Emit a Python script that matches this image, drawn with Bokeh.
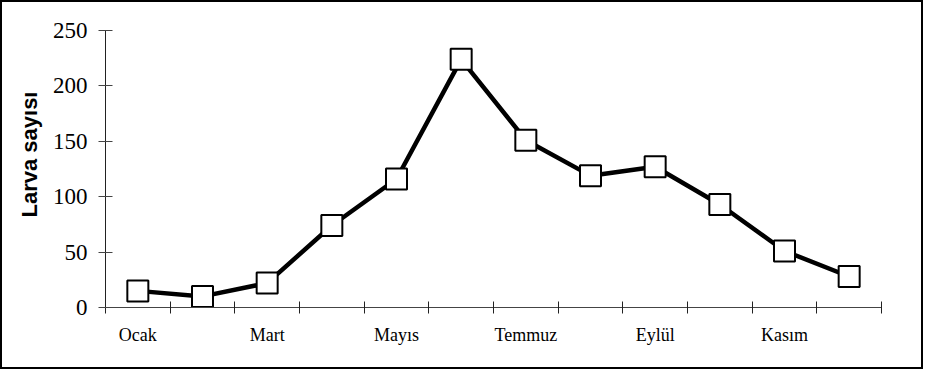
from bokeh.plotting import figure
from bokeh.models import FixedTicker, Range1d, ColumnDataSource, Title
from bokeh.embed import file_html
from bokeh.resources import INLINE

months = ["Ocak", "Şubat", "Mart", "Nisan", "Mayıs", "Haziran",
          "Temmuz", "Ağustos", "Eylül", "Ekim", "Kasım", "Aralık"]
larva = [15, 10, 22, 74, 116, 224, 151, 119, 127, 93, 51, 28]
label_months = ["Ocak", "Mart", "Mayıs", "Temmuz", "Eylül", "Kasım"]
y_ticks = [0, 50, 100, 150, 200, 250]
y_title = "Larva sayısı"

W, H = 923, 369
xpos = [i + 0.5 for i in range(len(months))]
src = ColumnDataSource(dict(x=xpos, y=larva, month=months))

p = figure(width=W, height=H, output_backend="svg", toolbar_location=None,
           x_range=Range1d(0, len(months)), y_range=Range1d(0, 250),
           min_border_left=103, min_border_right=44, min_border_top=28,
           min_border_bottom=64)
p.styles = {"border": "2px solid black"}
p.outline_line_color = None
p.xgrid.visible = False
p.ygrid.visible = False
p.background_fill_color = "white"
p.border_fill_color = "white"

p.line("x", "y", source=src, line_width=4.5, line_color="black")
p.scatter("x", "y", source=src, marker="square", size=21,
          fill_color="white", line_color="black", line_width=2)

label_pos = [xpos[months.index(m)] for m in label_months]
xa = p.xaxis[0]
xa.ticker = FixedTicker(ticks=label_pos, minor_ticks=list(range(len(months) + 1)))
xa.major_label_overrides = {pos: m for pos, m in zip(label_pos, label_months)}
xa.major_tick_in = 0
xa.major_tick_out = 0
xa.minor_tick_in = 6
xa.minor_tick_out = 6
xa.minor_tick_line_color = "#222222"
xa.axis_line_color = "#444444"
xa.major_label_text_font = "Liberation Serif"
xa.major_label_text_font_size = "18px"
xa.major_label_text_color = "black"
xa.major_label_standoff = 11

ya = p.yaxis[0]
ya.ticker = FixedTicker(ticks=y_ticks, minor_ticks=[])
ya.major_tick_in = 7
ya.major_tick_out = 7
ya.major_tick_line_color = "#444444"
ya.axis_line_color = "#222222"
ya.major_label_text_font = "Liberation Serif"
ya.major_label_text_font_size = "23px"
ya.major_label_text_color = "black"
ya.major_label_standoff = 11

ttl = Title(text=y_title, align="left", offset=90, standoff=15,
            text_font="Liberation Sans", text_font_style="bold",
            text_font_size="22px", text_color="black")
p.add_layout(ttl, "left")

open("out.html", "w").write(file_html(p, INLINE))
